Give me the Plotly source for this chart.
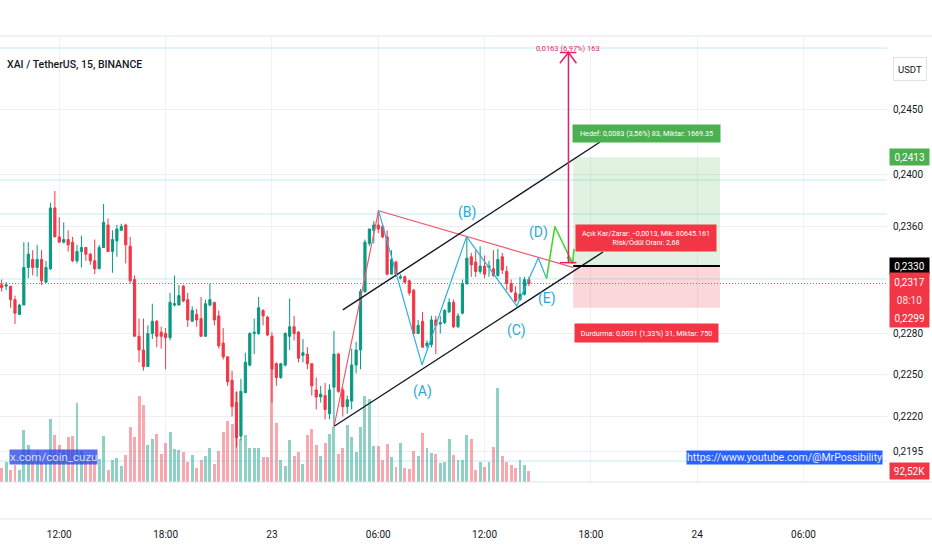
import math
import pandas as pd
import plotly.graph_objects as go

FONT = "Roboto, Liberation Sans, sans-serif"

# ---------------- data ----------------
start = "2024-03-22 08:45"
times = pd.date_range(start, periods=120, freq="15min")

open_ = [0.2316,0.2315,0.2315,0.2305,0.2294,0.2301,0.2329,0.2335,0.2329,0.2335,
         0.2318,0.2328,0.2374,0.2352,0.2348,0.2350,0.2348,0.2334,0.2341,0.2344,
         0.2339,0.2334,0.2328,0.2344,0.2361,0.2341,0.2349,0.2357,0.2361,0.2345,
         0.2320,0.2278,0.2268,0.2256,0.2280,0.2289,0.2281,0.2280,0.2277,0.2301,
         0.2301,0.2315,0.2305,0.2289,0.2294,0.2291,0.2278,0.2301,0.2303,0.2293,
         0.2273,0.2263,0.2246,0.2230,0.2206,0.2237,0.2257,0.2280,0.2280,0.2297,
         0.2292,0.2278,0.2258,0.2248,0.2257,0.2278,0.2285,0.2281,0.2264,0.2265,
         0.2258,0.2239,0.2234,0.2235,0.2222,0.2241,0.2265,0.2239,0.2227,0.2231,
         0.2257,0.2268,0.2311,0.2347,0.2357,0.2361,0.2360,0.2352,0.2324,0.2333,
         0.2321,0.2322,0.2319,0.2312,0.2280,0.2289,0.2271,0.2272,0.2290,0.2287,
         0.2288,0.2296,0.2303,0.2285,0.2295,0.2317,0.2337,0.2333,0.2326,0.2330,
         0.2329,0.2328,0.2323,0.2337,0.2326,0.2317,0.2310,0.2305,0.2309,0.2320]
high = [0.2320,0.2318,0.2315,0.2308,0.2302,0.2348,0.2348,0.2342,0.2346,0.2342,
        0.2334,0.2378,0.2387,0.2367,0.2363,0.2357,0.2352,0.2346,0.2353,0.2344,
        0.2340,0.2350,0.2346,0.2377,0.2366,0.2357,0.2361,0.2362,0.2362,0.2352,
        0.2323,0.2291,0.2291,0.2286,0.2302,0.2290,0.2285,0.2284,0.2310,0.2323,
        0.2316,0.2316,0.2310,0.2300,0.2298,0.2307,0.2305,0.2317,0.2303,0.2297,
        0.2284,0.2263,0.2253,0.2238,0.2247,0.2266,0.2281,0.2291,0.2307,0.2298,
        0.2293,0.2281,0.2259,0.2258,0.2281,0.2306,0.2293,0.2282,0.2276,0.2270,
        0.2258,0.2248,0.2242,0.2244,0.2243,0.2282,0.2266,0.2241,0.2235,0.2269,
        0.2274,0.2313,0.2350,0.2358,0.2364,0.2372,0.2362,0.2357,0.2342,0.2334,
        0.2324,0.2323,0.2320,0.2313,0.2290,0.2296,0.2275,0.2293,0.2293,0.2293,
        0.2298,0.2306,0.2305,0.2295,0.2320,0.2352,0.2340,0.2342,0.2345,0.2338,
        0.2334,0.2342,0.2343,0.2340,0.2330,0.2320,0.2315,0.2322,0.2322,0.2322]
low = [0.2311,0.2312,0.2299,0.2287,0.2294,0.2301,0.2321,0.2323,0.2322,0.2316,
       0.2318,0.2327,0.2352,0.2348,0.2347,0.2341,0.2333,0.2332,0.2329,0.2334,
       0.2331,0.2324,0.2328,0.2344,0.2341,0.2325,0.2337,0.2357,0.2332,0.2317,
       0.2278,0.2259,0.2253,0.2256,0.2276,0.2270,0.2269,0.2254,0.2275,0.2300,
       0.2301,0.2303,0.2285,0.2289,0.2285,0.2278,0.2278,0.2300,0.2286,0.2269,
       0.2261,0.2242,0.2220,0.2198,0.2203,0.2237,0.2256,0.2265,0.2279,0.2286,
       0.2278,0.2230,0.2242,0.2247,0.2256,0.2268,0.2275,0.2259,0.2259,0.2254,
       0.2235,0.2225,0.2230,0.2218,0.2218,0.2213,0.2237,0.2220,0.2222,0.2225,
       0.2251,0.2254,0.2310,0.2345,0.2347,0.2355,0.2351,0.2323,0.2324,0.2322,
       0.2320,0.2317,0.2308,0.2280,0.2280,0.2270,0.2269,0.2270,0.2265,0.2280,
       0.2287,0.2295,0.2284,0.2284,0.2294,0.2316,0.2322,0.2322,0.2324,0.2321,
       0.2322,0.2322,0.2322,0.2324,0.2312,0.2310,0.2303,0.2304,0.2308,0.2315]
close = [0.2314,0.2316,0.2305,0.2295,0.2301,0.2329,0.2339,0.2329,0.2335,0.2319,
         0.2329,0.2374,0.2352,0.2348,0.2350,0.2346,0.2334,0.2341,0.2344,0.2339,
         0.2334,0.2328,0.2344,0.2363,0.2341,0.2350,0.2358,0.2360,0.2346,0.2319,
         0.2278,0.2268,0.2256,0.2280,0.2289,0.2278,0.2278,0.2277,0.2303,0.2302,
         0.2308,0.2304,0.2290,0.2297,0.2290,0.2278,0.2302,0.2305,0.2290,0.2271,
         0.2263,0.2245,0.2227,0.2205,0.2238,0.2259,0.2280,0.2281,0.2299,0.2293,
         0.2279,0.2254,0.2248,0.2258,0.2280,0.2285,0.2280,0.2262,0.2266,0.2258,
         0.2242,0.2234,0.2236,0.2225,0.2239,0.2265,0.2238,0.2227,0.2232,0.2257,
         0.2268,0.2311,0.2348,0.2358,0.2361,0.2358,0.2352,0.2324,0.2335,0.2324,
         0.2322,0.2318,0.2310,0.2280,0.2286,0.2270,0.2273,0.2290,0.2286,0.2288,
         0.2297,0.2303,0.2285,0.2293,0.2317,0.2336,0.2331,0.2326,0.2330,0.2324,
         0.2330,0.2323,0.2335,0.2327,0.2317,0.2311,0.2304,0.2309,0.2320,0.2317]
volume_k = [118,168,101,143,101,437,311,193,261,185,
            168,530,395,311,269,378,387,664,261,185,
            193,219,193,387,101,185,202,135,227,463,
            378,723,648,311,362,404,235,328,420,278,
            269,252,168,227,118,185,219,286,151,261,
            420,513,488,757,362,395,286,286,286,210,
            210,942,496,185,135,353,219,252,151,395,
            446,311,219,328,404,463,235,286,479,378,
            252,463,723,698,303,303,185,320,210,126,
            328,118,109,261,219,412,286,244,235,160,
            168,362,227,185,185,395,362,101,168,126,
            168,294,791,219,168,143,118,185,143,92.52]

time_ticks = ["2024-03-22 12:00", "2024-03-22 18:00", "2024-03-23 00:00", "2024-03-23 06:00",
              "2024-03-23 12:00", "2024-03-23 18:00", "2024-03-24 00:00", "2024-03-24 06:00"]
time_labels = ["12:00", "18:00", "23", "06:00", "12:00", "18:00", "24", "06:00"]
price_ticks = [0.2195, 0.2220, 0.2250, 0.2280, 0.2360, 0.2400, 0.2450]
price_labels = ["0,2195", "0,2220", "0,2250", "0,2280", "0,2360", "0,2400", "0,2450"]

x_range = ["2024-03-22 08:39:15", "2024-03-24 10:42:36"]
price_range = [0.21737, 0.2509]
volume_top_k = 3751

last_price = 0.2317
h_levels = [0.24993, 0.23955, 0.23694, 0.23204, 0.21884]

channel_low = [("2024-03-23 03:32", 0.22132), ("2024-03-23 18:41", 0.23406)]
channel_up = [("2024-03-23 04:00", 0.22974), ("2024-03-23 18:31", 0.24249)]
triangle = [("2024-03-23 03:30", 0.22125), ("2024-03-23 06:01", 0.23719), ("2024-03-23 16:59", 0.23290)]
wave = [("2024-03-23 06:01", 0.23719), ("2024-03-23 08:28", 0.22571), ("2024-03-23 10:59", 0.23522),
        ("2024-03-23 13:49", 0.23003), ("2024-03-23 15:02", 0.23361), ("2024-03-23 15:30", 0.23208)]
wave_labels = [("(A)", "2024-03-23 08:29", 0.22376), ("(B)", "2024-03-23 10:59", 0.23702),
               ("(C)", "2024-03-23 13:48", 0.22826), ("(D)", "2024-03-23 15:01", 0.23553),
               ("(E)", "2024-03-23 15:33", 0.23062)]
projection = [("2024-03-23 15:30", 0.23208), ("2024-03-23 15:58", 0.23599), ("2024-03-23 16:58", 0.23320)]
arrow_wings = [("2024-03-23 16:39", 0.23369), ("2024-03-23 16:58", 0.23320), ("2024-03-23 17:03", 0.23429)]

entry, target, stop = 0.2330, 0.2413, 0.2299
pos_start, pos_end = "2024-03-23 17:00", "2024-03-24 01:17"
pos_mid = "2024-03-23 21:08"

measure_t = "2024-03-23 16:44"
measure_t0, measure_t1 = "2024-03-23 16:15", "2024-03-23 17:11"
measure_lo, measure_hi, measure_head = 0.23326, 0.24957, 0.24871

# ---------------- figure ----------------
L = math.log10
up = [c >= o for o, c in zip(open_, close)]
vol_colors = ["rgba(8,153,129,0.45)" if u else "rgba(242,54,69,0.43)" for u in up]

fig = go.Figure()

fig.add_trace(go.Bar(x=times, y=volume_k, marker_color=vol_colors, marker_line_width=0,
                     width=600000, yaxis="y", hoverinfo="skip", showlegend=False))

def line(pts, color, width=1, dash=None, fill=None, fillcolor=None):
    fig.add_trace(go.Scatter(x=[p[0] for p in pts], y=[p[1] for p in pts], mode="lines",
                             line=dict(color=color, width=width, dash=dash),
                             fill=fill, fillcolor=fillcolor, yaxis="y2",
                             hoverinfo="skip", showlegend=False))

# position zones
line([(pos_start, entry), (pos_end, entry), (pos_end, target), (pos_start, target), (pos_start, entry)],
     "rgba(0,0,0,0)", 0, fill="toself", fillcolor="rgba(76,175,80,0.17)")
line([(pos_start, stop), (pos_end, stop), (pos_end, entry), (pos_start, entry), (pos_start, stop)],
     "rgba(0,0,0,0)", 0, fill="toself", fillcolor="rgba(242,54,69,0.20)")

for lv in h_levels:
    line([(x_range[0], lv), (x_range[1], lv)], "rgba(38,198,218,0.30)", 1)
line([(x_range[0], last_price), (x_range[1], last_price)], "rgba(242,54,69,0.85)", 1.2, dash="1px,2px")

fig.add_trace(go.Candlestick(x=times, open=open_, high=high, low=low, close=close, yaxis="y2",
                             increasing=dict(line=dict(color="#089981", width=1), fillcolor="#089981"),
                             decreasing=dict(line=dict(color="#F23645", width=1), fillcolor="#F23645"),
                             whiskerwidth=0, hoverinfo="skip", showlegend=False))

line(triangle, "#EF5A6B", 1.2)
line(channel_low, "#131722", 1.4)
line(channel_up, "#131722", 1.4)
line(wave, "#2CB2D8", 1.2)
line(projection, "#46D62E", 1.6)
line(arrow_wings, "#46D62E", 1.6)
line([(measure_t, measure_lo), (measure_t, measure_hi)], "#E91E63", 1.5)
line([(measure_t0, measure_lo), (measure_t1, measure_lo)], "#E91E63", 1.5)
line([(measure_t0, measure_hi), (measure_t1, measure_hi)], "#E91E63", 1.5)
line([(measure_t0, measure_head), (measure_t, measure_hi), (measure_t1, measure_head)], "#E91E63", 1.5)
line([(pos_start, entry), (pos_end, entry)], "#000000", 2)

ann = []
for txt, t, p in wave_labels:
    ann.append(dict(x=t, y=L(p), xref="x", yref="y2", text=txt, showarrow=False,
                    font=dict(family=FONT, size=14, color="#2CAAD6")))
ann.append(dict(x=measure_t, y=L(measure_hi), xref="x", yref="y2", yanchor="bottom", yshift=-2,
                text="0,0163 (6,97%) 163", showarrow=False,
                font=dict(family=FONT, size=7.5, color="#E91E63")))
ann.append(dict(x=pos_mid, y=L(0.24316), xref="x", yref="y2",
                text="Hedef: 0,0083 (3,56%) 83, Miktar: 1669.35", showarrow=False,
                bgcolor="#4CAF50", width=143, height=13, borderpad=2,
                font=dict(family=FONT, size=7.2, color="white")))
ann.append(dict(x=pos_mid, y=L(0.23513), xref="x", yref="y2",
                text="Açık Kar/Zarar: −0,0013, Mik: 80645.161<br>Risk/Ödül Oranı: 2,68", showarrow=False,
                bgcolor="#F23645", width=136, height=22, borderpad=2,
                font=dict(family=FONT, size=7.2, color="white")))
ann.append(dict(x=pos_mid, y=L(0.22804), xref="x", yref="y2",
                text="Durdurma: 0,0031 (1,33%) 31, Miktar: 750", showarrow=False,
                bgcolor="#F23645", width=139, height=14, borderpad=2,
                font=dict(family=FONT, size=7.2, color="white")))

# right price scale labels
def axis_label(y, yref, text, bg, fg="white", h=14):
    ann.append(dict(x=1, xref="paper", xanchor="left", xshift=2, y=y, yref=yref, text=text,
                    showarrow=False, bgcolor=bg, width=37, height=h, borderpad=1,
                    font=dict(family=FONT, size=10, color=fg)))

axis_label(L(target), "y2", "0,2413", "#4CAF50")
axis_label(L(entry), "y2", "0,2330", "#000000")
axis_label(0.4913, "paper", "0,2317", "#F23645", h=16)
axis_label(0.4540, "paper", "08:10", "#F23645", fg="#FBE3E5", h=16)
axis_label(0.4168, "paper", "0,2299", "#F23645", h=16)
axis_label(volume_k[-1], "y", "92,52K", "#F23645")

ann.append(dict(x=1, xref="paper", xanchor="left", xshift=6, y=0.9565, yref="paper", text="USDT",
                showarrow=False, bgcolor="white", bordercolor="#E0E3EB", borderwidth=1,
                width=30, height=20, borderpad=1, font=dict(family=FONT, size=9.5, color="#131722")))
ann.append(dict(x=0, xref="paper", xanchor="left", xshift=5, y=0.9586, yref="paper",
                text="XAI / TetherUS, 15, BINANCE", showarrow=False,
                font=dict(family=FONT, size=10.5, color="#131722", weight=500)))
ann.append(dict(x=0.0101, xref="paper", xanchor="left", y=0.1128, yref="paper", text="x.com/coin_cuzu",
                showarrow=False, bgcolor="rgba(41,72,230,0.78)", borderpad=0,
                font=dict(family=FONT, size=11.5, color="#D9DBF2")))
ann.append(dict(x=0.9955, xref="paper", xanchor="right", y=0.1118, yref="paper",
                text="https://www.youtube.com/@MrPossibility", showarrow=False,
                bgcolor="#2962FF", borderpad=0, font=dict(family=FONT, size=10.5, color="#EEF0FF")))

shapes = []
for yy in [0, 0.0766, 1]:
    shapes.append(dict(type="line", xref="paper", yref="paper", x0=0, x1=1.06, y0=yy, y1=yy,
                       line=dict(color="#E0E3EB", width=1)))

fig.update_layout(
    width=932, height=550,
    margin=dict(l=0, r=45, t=36, b=31),
    paper_bgcolor="white", plot_bgcolor="white",
    showlegend=False, bargap=0,
    font=dict(family=FONT, size=10, color="#131722"),
    xaxis=dict(type="date", range=x_range, tickvals=time_ticks, ticktext=time_labels,
               anchor="free", position=0,
               showgrid=True, gridcolor="#F0F2F6", zeroline=False, showline=False, ticks="",
               ticklabelstandoff=8, tickfont=dict(family=FONT, size=10, color="#131722"),
               rangeslider=dict(visible=False), fixedrange=True),
    yaxis=dict(domain=[0.0766, 1], range=[0, volume_top_k], visible=False, showgrid=False,
               fixedrange=True),
    yaxis2=dict(overlaying="y", side="right", type="log", range=[L(price_range[0]), L(price_range[1])],
                tickvals=price_ticks, ticktext=price_labels, showgrid=True, gridcolor="#EDEFF3",
                zeroline=False, showline=False, ticks="", ticklabelstandoff=5,
                tickfont=dict(family=FONT, size=10, color="#131722"), fixedrange=True),
    annotations=ann, shapes=shapes,
)

fig.write_html("out.html", config={"displayModeBar": False},
               post_script="document.body.style.margin='0';")
